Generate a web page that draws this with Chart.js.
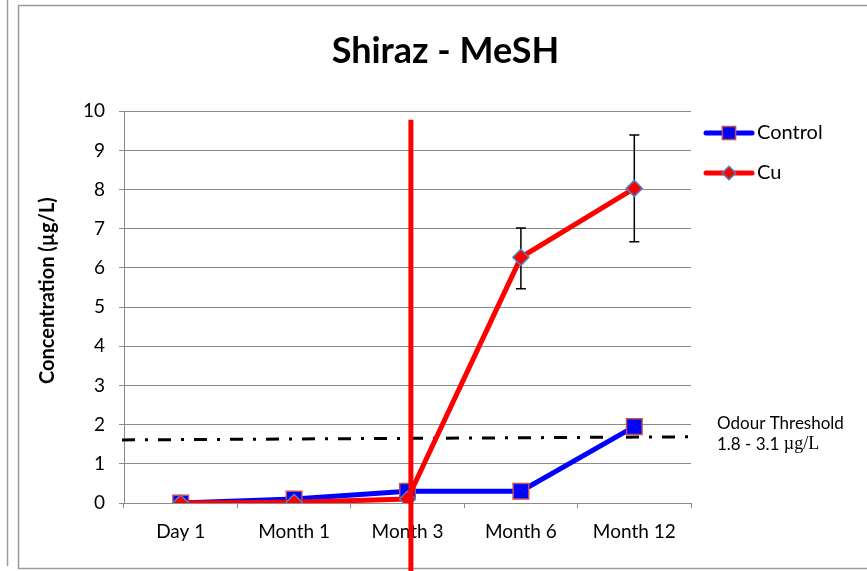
<!DOCTYPE html>
<html>
<head>
<meta charset="utf-8">
<script src="https://cdn.jsdelivr.net/npm/chart.js@4.4.1/dist/chart.umd.min.js"></script>
<style>
  html, body { margin: 0; padding: 0; background: #fff; }
  #wrap { width: 867px; height: 571px; position: relative; }
</style>
</head>
<body>
<div id="wrap"><canvas id="chart"></canvas></div>
<script>
const categories = ["Day 1", "Month 1", "Month 3", "Month 6", "Month 12"];
const controlValues = [0, 0.1, 0.3, 0.3, 1.95];
const cuValues = [0, 0.02, 0.1, 6.27, 8.03];
const cuErrLow = [null, null, null, 5.47, 6.67];
const cuErrHigh = [null, null, null, 7.02, 9.39];
const yTicks = [0, 1, 2, 3, 4, 5, 6, 7, 8, 9, 10];

// odour threshold marker (dash-dot) and treatment marker at Month 3
const thresholdStart = 1.61;
const thresholdEnd = 1.69;
const thresholdLabel = ["Odour Threshold", "1.8 - 3.1 ", "\u00b5g/L"];
const treatmentAt = 2.03;
const treatmentTop = 9.78;
const yTitle = "Concentration (\u00b5g/L)";

const FONT = "Lato, 'Open Sans', sans-serif";
const SERIF = "'Liberation Serif', 'DejaVu Serif', serif";
const GRID = "#8a8a8a";

const framePlugin = {
    id: "frame",
    beforeDraw(chart) {
        const ctx = chart.ctx;
        ctx.save();
        ctx.fillStyle = "#fff";
        ctx.fillRect(0, 0, chart.width, chart.height);
        ctx.strokeStyle = "#9a9a9a";
        ctx.lineWidth = 1.5;
        ctx.beginPath();
        ctx.moveTo(7.5, 0);
        ctx.lineTo(7.5, 566);
        ctx.stroke();
        ctx.strokeRect(18.5, 5.5, chart.width + 10, 563);
        ctx.restore();
    }
};

const markersPlugin = {
    id: "markers",
    beforeDatasetsDraw(chart) {
        const ctx = chart.ctx;
        const x = chart.scales.x, y = chart.scales.y;
        const area = chart.chartArea;
        ctx.save();
        // threshold dash-dot
        ctx.strokeStyle = "#000";
        ctx.lineWidth = 3;
        ctx.setLineDash([13, 10, 3, 10]);
        ctx.beginPath();
        ctx.moveTo(area.left - 2, y.getPixelForValue(thresholdStart));
        ctx.lineTo(area.right + 7, y.getPixelForValue(thresholdEnd));
        ctx.stroke();
        ctx.setLineDash([]);
        // error bars
        ctx.lineWidth = 1.5;
        cuErrLow.forEach((lo, i) => {
            if (lo === null) return;
            const px = x.getPixelForValue(i);
            const y1 = y.getPixelForValue(lo);
            const y2 = y.getPixelForValue(cuErrHigh[i]);
            ctx.beginPath();
            ctx.moveTo(px, y1); ctx.lineTo(px, y2);
            ctx.moveTo(px - 5, y1); ctx.lineTo(px + 5, y1);
            ctx.moveTo(px - 5, y2); ctx.lineTo(px + 5, y2);
            ctx.stroke();
        });
        // threshold label
        ctx.fillStyle = "#000";
        ctx.textBaseline = "middle";
        ctx.textAlign = "left";
        const lx = area.right + 26;
        ctx.font = "17px " + FONT;
        ctx.fillText(thresholdLabel[0], lx, y.getPixelForValue(2.04));
        ctx.fillText(thresholdLabel[1], lx, y.getPixelForValue(1.5));
        const w = ctx.measureText(thresholdLabel[1]).width;
        ctx.font = "18px " + SERIF;
        ctx.fillText(thresholdLabel[2], lx + w, y.getPixelForValue(1.5));
        // y axis title
        ctx.save();
        ctx.translate(48, y.getPixelForValue(5.42));
        ctx.rotate(-Math.PI / 2);
        ctx.textAlign = "center";
        ctx.font = "bold 20px " + FONT;
        ctx.fillText(yTitle, 0, 0);
        ctx.restore();
        ctx.restore();
    },
    afterDatasetsDraw(chart) {
        const ctx = chart.ctx;
        const x = chart.scales.x, y = chart.scales.y;
        ctx.save();
        ctx.strokeStyle = "#ff0000";
        ctx.lineWidth = 5;
        const px = x.getPixelForValue(treatmentAt);
        ctx.beginPath();
        ctx.moveTo(px, y.getPixelForValue(treatmentTop));
        ctx.lineTo(px, chart.height);
        ctx.stroke();
        ctx.restore();
    }
};

const legendPlugin = {
    id: "sideLegend",
    afterDraw(chart) {
        const ctx = chart.ctx;
        const area = chart.chartArea;
        const x0 = area.right + 15, x1 = area.right + 61;
        const rows = [133, 173];
        ctx.save();
        chart.data.datasets.forEach((ds, i) => {
            const yy = rows[i];
            ctx.strokeStyle = ds.borderColor;
            ctx.lineWidth = 5;
            ctx.lineCap = "round";
            ctx.beginPath();
            ctx.moveTo(x0, yy); ctx.lineTo(x1, yy);
            ctx.stroke();
            ctx.lineCap = "butt";
            ctx.fillStyle = ds.pointBackgroundColor;
            ctx.strokeStyle = ds.pointBorderColor;
            ctx.lineWidth = ds.pointBorderWidth;
            Chart.helpers.drawPoint(ctx, {
                pointStyle: ds.pointStyle,
                radius: ds.pointRadius * 0.85,
                borderWidth: ds.pointBorderWidth
            }, (x0 + x1) / 2, yy);
            ctx.fillStyle = "#000";
            ctx.font = "20px " + FONT;
            ctx.textBaseline = "middle";
            ctx.fillText(ds.label, x1 + 5, yy);
        });
        ctx.restore();
    }
};

new Chart(document.getElementById("chart"), {
    type: "line",
    data: {
        labels: categories,
        datasets: [{
            label: "Control",
            data: controlValues,
            borderColor: "#0000ff",
            borderWidth: 5,
            pointStyle: "rect",
            pointRadius: 11,
            pointBackgroundColor: "#0000ff",
            pointBorderColor: "#c0504d",
            pointBorderWidth: 1.5,
            order: 1
        }, {
            label: "Cu",
            data: cuValues,
            borderColor: "#ff0000",
            borderWidth: 5,
            pointStyle: "rectRot",
            pointRadius: 8,
            pointBackgroundColor: "#ff0000",
            pointBorderColor: "#4f81bd",
            pointBorderWidth: 1.5,
            order: 0
        }]
    },
    options: {
        responsive: true,
        maintainAspectRatio: false,
        animation: false,
        layout: {padding: {left: 24, right: 0, top: 0, bottom: 0}},
        plugins: {
            legend: {display: false},
            tooltip: {enabled: false},
            title: {
                display: true,
                text: "Shiraz - MeSH",
                color: "#000",
                font: {family: FONT, size: 36, weight: "bold", lineHeight: 1.2},
                padding: {top: 30, bottom: 38}
            }
        },
        scales: {
            x: {
                offset: true,
                grid: {display: true, offset: true, drawOnChartArea: false, color: GRID, tickLength: 5},
                border: {color: GRID},
                ticks: {color: "#000", font: {family: FONT, size: 19}, padding: 12, maxRotation: 0},
                afterFit(s) { s.height = 68; }
            },
            y: {
                min: 0,
                max: 10,
                afterBuildTicks(s) { s.ticks = yTicks.map(v => ({value: v})); },
                grid: {color: GRID, tickLength: 5},
                border: {color: GRID},
                ticks: {color: "#000", font: {family: FONT, size: 19}, padding: 14},
                afterFit(s) { s.width = 100; }
            },
            side: {
                position: "right",
                display: true,
                grid: {display: false},
                border: {display: false},
                ticks: {display: false},
                afterFit(s) { s.width = 176; }
            }
        }
    },
    plugins: [framePlugin, markersPlugin, legendPlugin]
});
</script>
</body>
</html>
